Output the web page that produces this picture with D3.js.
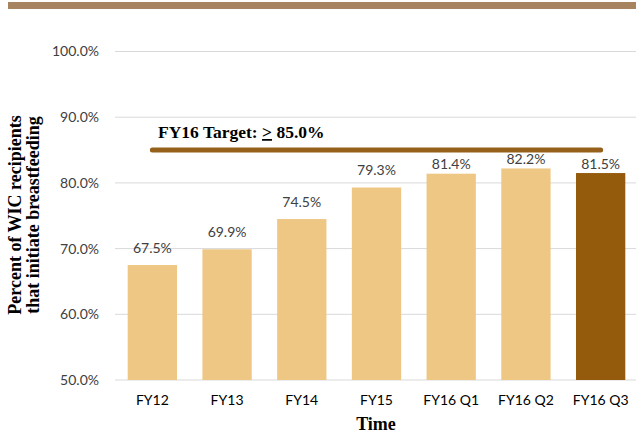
<!DOCTYPE html>
<html><head><meta charset="utf-8">
<script src="https://cdn.jsdelivr.net/npm/d3@7"></script>
<style>body{margin:0;background:#fff}svg{display:block}</style>
</head><body>
<svg id="c" width="636" height="436"></svg>
<script>
const categories = ["FY12","FY13","FY14","FY15","FY16 Q1","FY16 Q2","FY16 Q3"];
const values = [67.5, 69.9, 74.5, 79.3, 81.4, 82.2, 81.5];
const highlight = [false,false,false,false,false,false,true];
const yTicks = [50,60,70,80,90,100];
const target = 85.0;
const targetStart = "FY12", targetEnd = "FY16 Q3";

const svg = d3.select("#c");
const x = d3.scaleBand().domain(categories).range([115, 638]).paddingInner(0.34).paddingOuter(0.17);
const y = d3.scaleLinear().domain([50,100]).range([380, 51.5]);
const tickFont = "Lato, 'Open Sans', sans-serif";
const serif = "'Liberation Serif', 'DejaVu Serif', serif";

// top band
svg.append("rect").attr("x",8).attr("y",2).attr("width",628).attr("height",7).attr("fill","#a5845f");

// gridlines
svg.append("g").selectAll("line").data(yTicks).join("line")
  .attr("x1",115).attr("x2",636).attr("y1",d=>y(d)).attr("y2",d=>y(d))
  .attr("stroke","#d9d9d9").attr("stroke-width",1);

// y axis labels
const yAxis = d3.axisLeft(y).tickValues(yTicks).tickSize(0).tickPadding(0).tickFormat(d=>d.toFixed(1)+"%");
const ya = svg.append("g").attr("transform","translate(99,0)").call(yAxis);
ya.select(".domain").remove();
ya.selectAll("text").attr("font-family",tickFont).attr("font-size",14).attr("fill","#404040");

// bars
svg.append("g").selectAll("rect").data(values).join("rect")
  .attr("x",(d,i)=>x(categories[i])).attr("width",x.bandwidth())
  .attr("y",d=>y(d)).attr("height",d=>y(50)-y(d))
  .attr("fill",(d,i)=>highlight[i]?"#935b0b":"#eec785");

// value labels (moved closer to the bar when they would hit the target line)
const labelY = d => (y(d) - 12 - 10 < y(target) + 3) ? y(d) - 4.5 : y(d) - 12;
svg.append("g").selectAll("text").data(values).join("text")
  .attr("x",(d,i)=>x(categories[i])+x.bandwidth()/2).attr("y",labelY)
  .attr("text-anchor","middle").attr("font-family",tickFont).attr("font-size",14)
  .attr("fill","#404040").text(d=>d.toFixed(1)+"%");

// x axis
const xAxis = d3.axisBottom(x).tickSize(0).tickPadding(0);
const xa = svg.append("g").attr("transform","translate(0,395)").call(xAxis);
xa.select(".domain").remove();
xa.selectAll("text").attr("font-family",tickFont).attr("font-size",14).attr("fill","#000");

// target line
svg.append("line")
  .attr("x1",x(targetStart)+x.bandwidth()/2).attr("x2",x(targetEnd)+x.bandwidth()/2)
  .attr("y1",y(target)).attr("y2",y(target))
  .attr("stroke","#95601a").attr("stroke-width",5).attr("stroke-linecap","round");

const tl = svg.append("text").attr("x",158).attr("y",138)
  .attr("font-family",serif).attr("font-weight","bold").attr("font-size",17.5).attr("fill","#000");
tl.append("tspan").text("FY16 Target: ");
tl.append("tspan").attr("text-decoration","underline").text(">");
tl.append("tspan").text(" " + target.toFixed(1) + "%");

// axis titles
svg.append("text").attr("x",376).attr("y",430).attr("text-anchor","middle")
  .attr("font-family",serif).attr("font-weight","bold").attr("font-size",18).text("Time");
const yt = svg.append("text").attr("transform","translate(0,215) rotate(-90)")
  .attr("text-anchor","middle").attr("font-family",serif).attr("font-weight","bold").attr("font-size",18);
yt.append("tspan").attr("x",0).attr("y",21).text("Percent of WIC recipients");
yt.append("tspan").attr("x",0).attr("y",39).text("that initiate breastfeeding");
</script>
</body></html>
